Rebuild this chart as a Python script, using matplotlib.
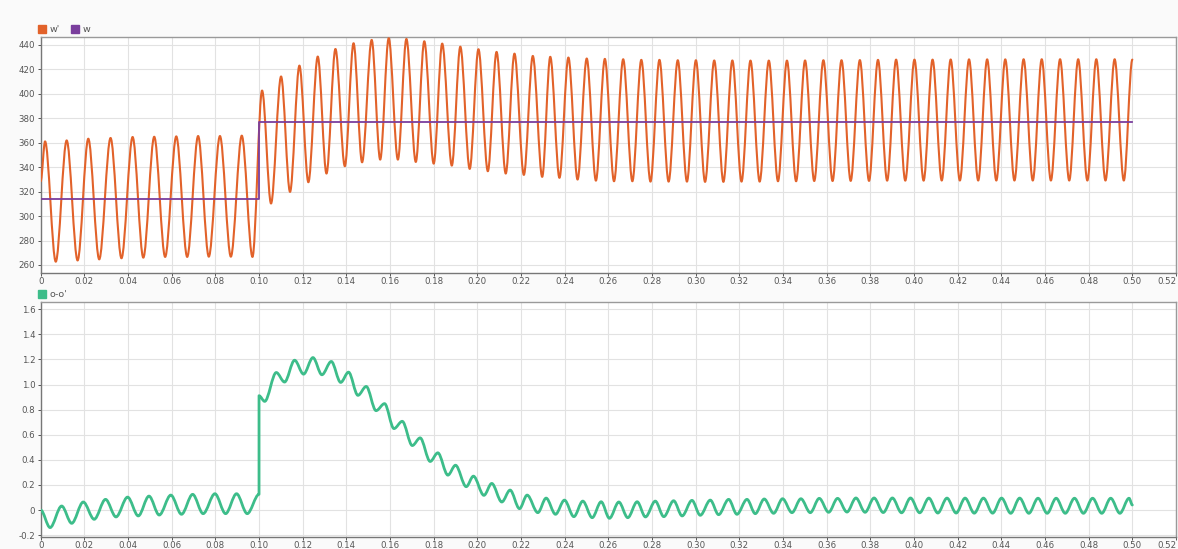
import numpy as np
import matplotlib
matplotlib.use("Agg")
import matplotlib.pyplot as plt
from matplotlib.path import Path
from matplotlib.patches import PathPatch
from matplotlib.lines import Line2D

# ---------------- data ----------------
# top panel: w' (extrema of the oscillation) and w (step)
WP_START_T, WP_START_V = [0.0], [328.5]
WP_PRE_PEAK_T = [0.0020, 0.0119, 0.0218, 0.0320, 0.0421, 0.0520, 0.0621, 0.0721, 0.0821, 0.0921]
WP_PRE_PEAK_V = [361.1, 361.9, 363.3, 363.9, 364.7, 364.9, 365.2, 365.5, 365.5, 365.8]
WP_PRE_TROUGH_T = [0.0069, 0.0169, 0.0268, 0.0370, 0.0470, 0.0570, 0.0671, 0.0770, 0.0871, 0.0970]
WP_PRE_TROUGH_V = [262.7, 263.7, 264.6, 265.5, 266.0, 266.6, 266.6, 266.8, 266.8, 266.6]
WP_POST_PEAK_T = [0.1014, 0.1101, 0.1185, 0.1269, 0.1350, 0.1433, 0.1516, 0.1594, 0.1675, 0.1757,
                  0.1839, 0.1922, 0.2005, 0.2088, 0.2170, 0.2254, 0.2334,
                  0.2417, 0.2501, 0.2584, 0.2668, 0.2751, 0.2834, 0.2918, 0.3001, 0.3085, 0.3168,
                  0.3251, 0.3335, 0.3418, 0.3501, 0.3585, 0.3668, 0.3752, 0.3835, 0.3918, 0.4002,
                  0.4085, 0.4168, 0.4252, 0.4335, 0.4418, 0.4502, 0.4585, 0.4669, 0.4752, 0.4835, 0.4919]
WP_POST_PEAK_V = [402.7, 414.2, 423.1, 430.5, 436.7, 441.4, 444.1, 445.5, 444.9, 443.0,
                  441.1, 438.6, 436.5, 434.3, 432.9, 431.0, 430.3,
                  429.7, 428.9, 428.6, 428.3, 427.8, 427.8, 427.5, 427.5, 427.3, 427.3,
                  427.2, 427.2, 427.2, 427.3, 427.5, 427.5, 427.6, 427.8, 428.0, 428.0,
                  428.0, 428.1, 428.2, 428.2, 428.2, 428.3, 428.3, 428.3, 428.3, 428.3, 428.3]
WP_POST_TROUGH_T = [0.1055, 0.1142, 0.1226, 0.1309, 0.1393, 0.1472, 0.1555, 0.1636, 0.1718, 0.1800,
                    0.1883, 0.1965, 0.2048, 0.2130, 0.2213, 0.2297,
                    0.2376, 0.2459, 0.2543, 0.2626, 0.2710, 0.2793, 0.2876, 0.2960, 0.3043, 0.3127,
                    0.3210, 0.3293, 0.3377, 0.3460, 0.3543, 0.3627, 0.3710, 0.3794, 0.3877, 0.3960,
                    0.4044, 0.4127, 0.4210, 0.4294, 0.4377, 0.4460, 0.4544, 0.4627, 0.4711, 0.4794,
                    0.4877, 0.4961]
WP_POST_TROUGH_V = [310.3, 319.8, 327.7, 334.8, 340.8, 344.0, 346.2, 346.2, 344.3, 342.9,
                    341.3, 338.6, 336.7, 334.8, 333.7, 332.1,
                    331.3, 329.9, 329.0, 328.5, 328.5, 328.2, 328.2, 328.2, 328.0, 328.0,
                    328.2, 328.2, 328.5, 328.5, 328.7, 328.7, 328.8, 328.8, 329.0, 329.0,
                    329.0, 329.1, 329.1, 329.1, 329.1, 329.1, 329.1, 329.1, 329.1, 329.1,
                    329.1, 329.1]
WP_END_T, WP_END_V = [0.500], [428.0]

W_T = [0.0, 0.1, 0.1, 0.5]
W_V = [314.0, 314.0, 377.0, 377.0]

# bottom panel: o-o'
D_START_T, D_START_V = [0.0], [0.0]
D_PRE_PEAK_T = [0.0096, 0.0195, 0.0297, 0.0398, 0.0496, 0.0596, 0.0696, 0.0798, 0.0897]
D_PRE_PEAK_V = [0.032, 0.064, 0.085, 0.103, 0.111, 0.119, 0.125, 0.130, 0.130]
D_PRE_TROUGH_T = [0.0043, 0.0142, 0.0245, 0.0345, 0.0447, 0.0543, 0.0645, 0.0744, 0.0847, 0.0946]
D_PRE_TROUGH_V = [-0.140, -0.106, -0.074, -0.055, -0.047, -0.040, -0.034, -0.029, -0.029, -0.029]
D_STEP_T = [0.1, 0.1]
D_STEP_V = [0.125, 0.911]
D_POST_PEAK_T = [0.1079, 0.1163, 0.1247, 0.1331, 0.1410, 0.1491, 0.1575, 0.1656, 0.1738, 0.1819,
                 0.1900, 0.1982, 0.2066, 0.2150, 0.2228, 0.2315, 0.2399, 0.2483, 0.2567, 0.2648,
                 0.2732, 0.2815, 0.2899, 0.2983, 0.3067, 0.3151, 0.3235, 0.3314, 0.3398, 0.3482,
                 0.3566, 0.3650, 0.3734, 0.3817, 0.3901, 0.3984, 0.4068, 0.4151, 0.4234, 0.4318,
                 0.4401, 0.4484, 0.4568, 0.4651, 0.4735, 0.4818, 0.4901, 0.4985]
D_POST_PEAK_V = [1.096, 1.194, 1.215, 1.184, 1.099, 0.985, 0.848, 0.707, 0.575, 0.456,
                 0.357, 0.270, 0.212, 0.159, 0.119, 0.095, 0.079, 0.071, 0.066, 0.064,
                 0.066, 0.071, 0.074, 0.077, 0.079, 0.085, 0.085, 0.088, 0.090, 0.090,
                 0.093, 0.093, 0.096, 0.096, 0.096, 0.096, 0.095, 0.095, 0.095, 0.095,
                 0.095, 0.095, 0.094, 0.094, 0.094, 0.094, 0.094, 0.094]
D_POST_TROUGH_T = [0.1026, 0.1117, 0.1204, 0.1288, 0.1374, 0.1453, 0.1536, 0.1618, 0.1702, 0.1784,
                   0.1865, 0.1949, 0.2030, 0.2112, 0.2193, 0.2277, 0.2358, 0.2442, 0.2526, 0.2605,
                   0.2689, 0.2770, 0.2854, 0.2938, 0.3021, 0.3105, 0.3189, 0.3273, 0.3357, 0.3441,
                   0.3525, 0.3609, 0.3693, 0.3776, 0.3859, 0.3943, 0.4026, 0.4109, 0.4193, 0.4276,
                   0.4360, 0.4443, 0.4526, 0.4610, 0.4693, 0.4776, 0.4860, 0.4943]
D_POST_TROUGH_V = [0.866, 1.020, 1.083, 1.078, 1.017, 0.914, 0.792, 0.649, 0.514, 0.387,
                   0.278, 0.186, 0.117, 0.064, 0.011, -0.021, -0.034, -0.053, -0.061, -0.066,
                   -0.061, -0.055, -0.053, -0.047, -0.042, -0.037, -0.034, -0.029, -0.026, -0.021,
                   -0.021, -0.018, -0.016, -0.018, -0.020, -0.022, -0.022, -0.024, -0.024, -0.025,
                   -0.025, -0.026, -0.026, -0.026, -0.026, -0.026, -0.026, -0.026]
D_END_T, D_END_V = [0.500], [0.040]

X_TICKS = [0, 0.02, 0.04, 0.06, 0.08, 0.10, 0.12, 0.14, 0.16, 0.18, 0.20, 0.22, 0.24, 0.26,
           0.28, 0.30, 0.32, 0.34, 0.36, 0.38, 0.40, 0.42, 0.44, 0.46, 0.48, 0.50, 0.52]
TOP_Y_TICKS = [260, 280, 300, 320, 340, 360, 380, 400, 420, 440]
BOT_Y_TICKS = [-0.2, 0, 0.2, 0.4, 0.6, 0.8, 1.0, 1.2, 1.4, 1.6]
LABEL_WP, LABEL_W, LABEL_D = "w'", "w", "o-o'"

C_ORANGE = "#E2622A"
C_PURPLE = "#7A3E9D"
C_GREEN = "#3DBD8A"


def merge(*pairs):
    ts, vs = [], []
    for t, v in pairs:
        assert len(t) == len(v)
        ts += list(t)
        vs += list(v)
    order = np.argsort(np.array(ts), kind="stable")
    return [ts[i] for i in order], [vs[i] for i in order]


def smooth_path(ts, vs):
    """Smooth curve through the extrema (horizontal tangents); equal times -> vertical line."""
    verts = [(ts[0], vs[0])]
    codes = [Path.MOVETO]
    for (t0, v0), (t1, v1) in zip(zip(ts[:-1], vs[:-1]), zip(ts[1:], vs[1:])):
        dt = t1 - t0
        if dt <= 0:
            verts.append((t1, v1))
            codes.append(Path.LINETO)
        else:
            verts += [(t0 + dt / 3, v0), (t0 + 2 * dt / 3, v1), (t1, v1)]
            codes += [Path.CURVE4] * 3
    return Path(verts, codes)


wp_pre_t, wp_pre_v = merge((WP_START_T, WP_START_V), (WP_PRE_PEAK_T, WP_PRE_PEAK_V),
                           (WP_PRE_TROUGH_T, WP_PRE_TROUGH_V))
wp_post_t, wp_post_v = merge((WP_POST_PEAK_T, WP_POST_PEAK_V), (WP_POST_TROUGH_T, WP_POST_TROUGH_V),
                             (WP_END_T, WP_END_V))
wp_t, wp_v = wp_pre_t + wp_post_t, wp_pre_v + wp_post_v

d_pre_t, d_pre_v = merge((D_START_T, D_START_V), (D_PRE_PEAK_T, D_PRE_PEAK_V),
                         (D_PRE_TROUGH_T, D_PRE_TROUGH_V))
d_post_t, d_post_v = merge((D_POST_PEAK_T, D_POST_PEAK_V), (D_POST_TROUGH_T, D_POST_TROUGH_V),
                           (D_END_T, D_END_V))
d_t = d_pre_t + D_STEP_T + d_post_t
d_v = d_pre_v + D_STEP_V + d_post_v

# ---------------- figure ----------------
W, H = 1178, 549
fig = plt.figure(figsize=(W / 100, H / 100), dpi=100, facecolor="#fafafa")


def fx(px):
    return px / W


def fy(py):
    return 1 - py / H


ax1 = fig.add_axes([fx(40.7), fy(273.3), fx(1176 - 40.7), fy(37) - fy(273.3)])
ax2 = fig.add_axes([fx(40.7), fy(537), fx(1176 - 40.7), fy(302) - fy(537)])


def style(ax, yticks, yfmt):
    ax.set_facecolor("white")
    ax.set_xlim(0, 0.52)
    ax.set_xticks(X_TICKS)
    ax.set_xticklabels(["0" if x == 0 else f"{x:.2f}" for x in X_TICKS])
    ax.set_yticks(yticks)
    ax.set_yticklabels([yfmt(y) for y in yticks])
    ax.grid(True, color="#e2e2e2", linewidth=0.8)
    ax.set_axisbelow(True)
    for s in ax.spines.values():
        s.set_color("#9a9a9a")
        s.set_linewidth(1.0)
    ax.spines["left"].set_color("#777777")
    ax.spines["bottom"].set_color("#777777")
    ax.tick_params(axis="both", labelsize=6.2, colors="#555555", length=2.5, width=0.7,
                   direction="out", pad=1.5)
    ax.tick_params(axis="x", pad=0.8, length=2)
    ax.get_xticklabels()[-1].set_horizontalalignment("right")


style(ax1, TOP_Y_TICKS, lambda y: f"{y:d}")
ax1.set_ylim(253.2, 446.5)
style(ax2, BOT_Y_TICKS, lambda y: "0" if y == 0 else f"{y:.1f}")
ax2.set_ylim(-0.215, 1.658)

ax1.add_patch(PathPatch(smooth_path(wp_t, wp_v), facecolor="none", edgecolor=C_ORANGE,
                        linewidth=1.5, joinstyle="round", capstyle="round", zorder=3))
ax1.plot(W_T, W_V, color=C_PURPLE, linewidth=1.3, zorder=4)

ax2.add_patch(PathPatch(smooth_path(d_t, d_v), facecolor="none", edgecolor=C_GREEN,
                        linewidth=2.0, joinstyle="round", capstyle="round", zorder=3))


def sq(c):
    return Line2D([], [], marker="s", linestyle="none", markersize=5.5, markerfacecolor=c,
                  markeredgecolor=c)


leg_kw = dict(loc="lower left", frameon=False, fontsize=6.8, handlelength=0.8,
              handletextpad=0.4, columnspacing=1.2, borderaxespad=0, borderpad=0,
              labelcolor="#555555")
ax1.legend([sq(C_ORANGE), sq(C_PURPLE)], [LABEL_WP, LABEL_W], ncol=2,
           bbox_to_anchor=(-0.002, 1.012), **leg_kw)
ax2.legend([sq(C_GREEN)], [LABEL_D], ncol=1, bbox_to_anchor=(-0.002, 1.012), **leg_kw)

fig.savefig("out.png", dpi=100, facecolor=fig.get_facecolor())
